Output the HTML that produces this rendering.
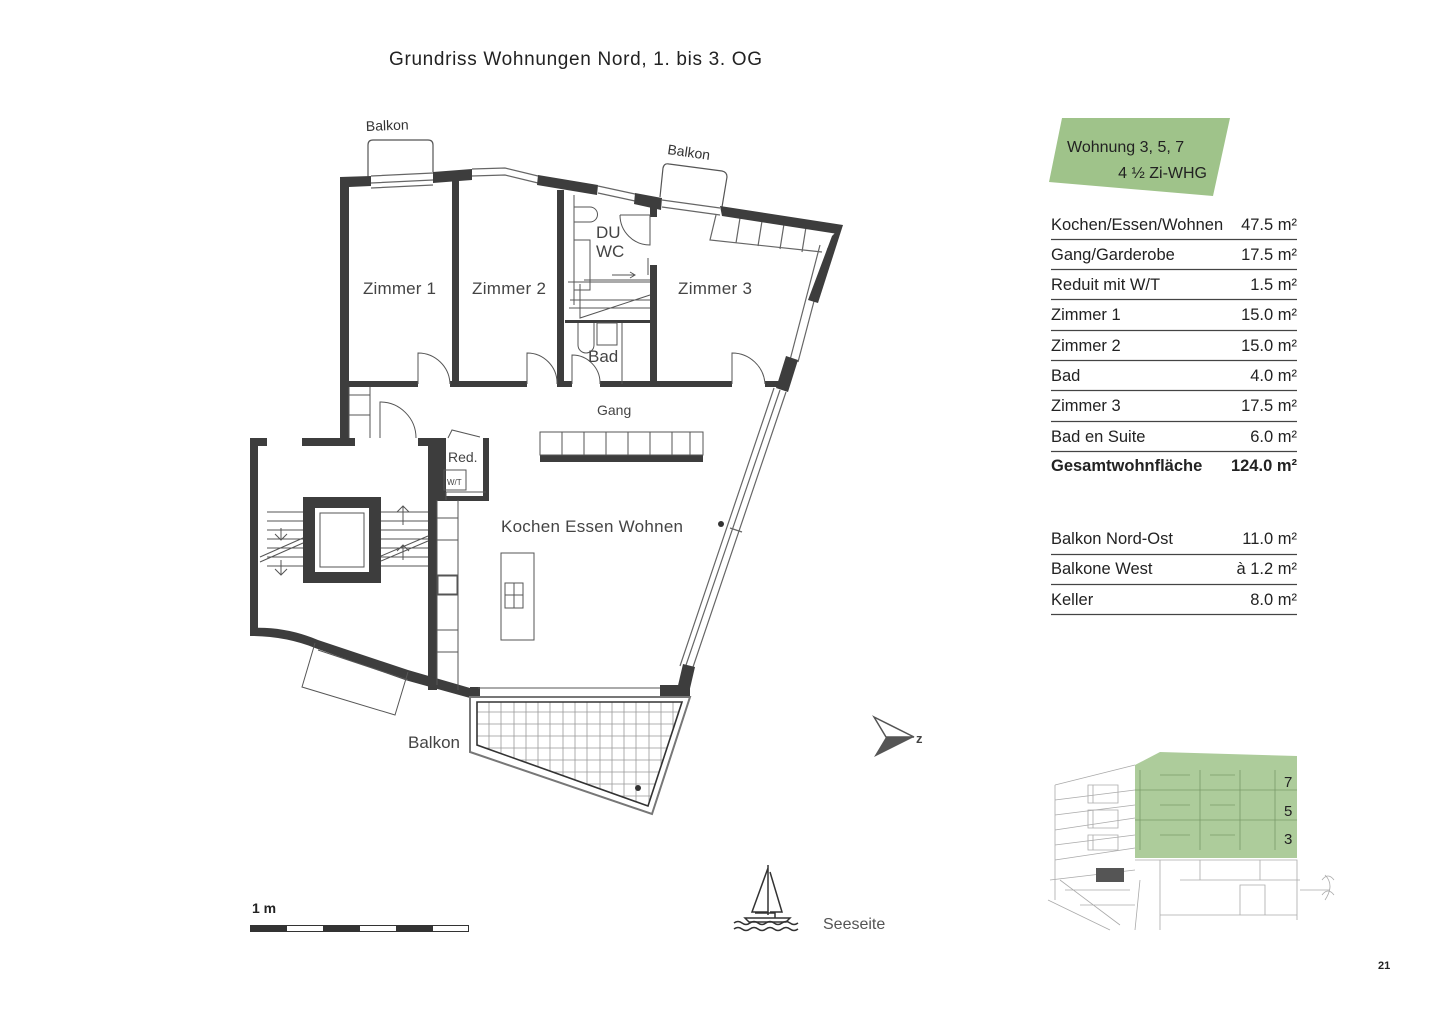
<!DOCTYPE html>
<html><head><meta charset="utf-8"><style>
html,body{margin:0;padding:0;background:#fff;}
svg{display:block;}
text{font-family:"Liberation Sans",sans-serif;}
</style></head><body>
<svg width="1440" height="1018" viewBox="0 0 1440 1018" xmlns="http://www.w3.org/2000/svg">
<rect width="1440" height="1018" fill="#fff"/>
<text x="389" y="65" font-size="19" fill="#222" textLength="373" lengthAdjust="spacing">Grundriss Wohnungen Nord, 1. bis 3. OG</text>

<!-- balcony top-left -->
<path d="M368 178 L368 145 Q368 140 373 140 L428 140 Q433 140 433 145 L433 172" fill="none" stroke="#555" stroke-width="1.2"/>
<text x="366" y="131" font-size="14" fill="#333" transform="rotate(-2 366 131)">Balkon</text>
<path d="M660 197 L663 168 Q664 163 669 164 L722 171 Q727 172 727 177 L722 207" fill="none" stroke="#555" stroke-width="1.2"/>
<text x="667" y="154" font-size="14" fill="#333" transform="rotate(8 667 154)">Balkon</text>

<!-- window segments top -->
<g fill="none" stroke="#666" stroke-width="1.2">
<path d="M371 176 L433 173 M371 183 L433 180 M371 188 L433 185"/>
<path d="M472 169 L505 168 L538 176 M472 176 L505 175 L538 183"/>
<path d="M598 186 L635 194 M598 193 L635 201"/>
<path d="M662 200 L720 208 M662 207 L720 215"/>
<path d="M716 215 L710 240 L822 252 M740 218 L736 243 M762 221 L758 246 M784 224 L780 249 M806 227 L802 252"/>
<path d="M820 245 L790 360 M828 248 L798 362"/>
<path d="M780 390 L685 668 M786 392 L692 670 M774 388 L680 666"/>
<path d="M730 528 L742 532"/>
</g>

<!-- main outer walls -->
<g fill="#3d3d3d">
<polygon points="340,177 371,176 371,186 349,187 349,438 340,438"/>
<polygon points="433,172 472,169 472,180 433,183"/>
<polygon points="538,175 598,185 597,195 537,185"/>
<polygon points="635,193 662,198 661,210 634,204"/>
<polygon points="720,206 843,225 838,234 722,216"/>
<polygon points="843,225 832,236 808,300 818,303"/>
<polygon points="786,356 798,360 788,392 776,388"/>
<polygon points="683,664 695,667 688,697 676,694"/>
<rect x="452" y="180" width="7" height="205"/>
<rect x="557" y="190" width="7" height="195"/>
<rect x="650" y="205" width="7" height="12"/>
<rect x="650" y="265" width="7" height="122"/>
<rect x="349" y="381" width="69" height="6"/>
<rect x="450" y="381" width="77" height="6"/>
<rect x="557" y="381" width="15" height="6"/>
<rect x="600" y="381" width="132" height="6"/>
<rect x="765" y="381" width="15" height="6"/>
<rect x="565" y="320" width="85" height="3"/>
<rect x="340" y="387" width="9" height="51"/>
<rect x="250" y="438" width="17" height="8"/>
<rect x="302" y="438" width="53" height="8"/>
<rect x="418" y="438" width="19" height="8"/>
<rect x="250" y="438" width="8" height="195"/>
<rect x="428" y="438" width="9" height="252"/>
<path d="M250 628 Q285 626 318 640 L408 670 L470 688 L470 698 L405 680 L315 648 Q285 636 250 636 Z"/>
<rect x="470" y="687" width="10" height="11"/>
<rect x="660" y="685" width="30" height="12"/>
<rect x="437" y="438" width="9" height="62"/>
<rect x="483" y="438" width="6" height="62"/>
<rect x="437" y="496" width="52" height="5"/>
<rect x="540" y="455" width="163" height="7"/>
<rect x="303" y="497" width="78" height="86"/>
</g>
<rect x="315" y="508" width="54" height="64" fill="#fff"/>
<rect x="320" y="513" width="44" height="54" fill="none" stroke="#555" stroke-width="1"/>

<g fill="none" stroke="#555" stroke-width="1">
<path d="M418 384 L418 353 A32 32 0 0 1 450 384"/>
<path d="M527 384 L527 353 A30 30 0 0 1 557 384"/>
<path d="M572 384 L572 355 A28 28 0 0 1 600 384"/>
<path d="M732 384 L732 353 A33 33 0 0 1 765 384"/>
<path d="M620 215 L650 215 L650 245 A30 30 0 0 1 620 215"/>
<path d="M380 438 L380 402 A36 36 0 0 1 416 438"/>
<path d="M448 438 L452 430 L480 437"/>
<path d="M267 512 L303 512 M267 521 L303 521 M267 530 L303 530 M267 539 L303 539 M267 548 L303 548 M267 557 L303 557 M267 566 L303 566"/>
<path d="M381 512 L428 512 M381 521 L428 521 M381 530 L428 530 M381 539 L428 539 M381 548 L428 548 M381 557 L428 557 M381 566 L428 566"/>
<path d="M260 557 L303 538 M260 562 L303 543 M381 556 L428 536 M381 561 L428 541"/>
<path d="M281 528 L281 540 M275 534 L281 540 L287 534 M281 560 L281 575 M275 569 L281 575 L287 569 M403 506 L403 525 M397 512 L403 506 L409 512 M403 545 L403 560 M397 551 L403 545 L409 551"/>
<path d="M349 387 L349 438 M349 395 L370 395 M370 387 L370 438 M349 415 L370 415"/>
<rect x="540" y="432" width="163" height="23"/>
<path d="M562 432 V455 M584 432 V455 M606 432 V455 M628 432 V455 M650 432 V455 M672 432 V455 M690 432 V455"/>
<path d="M437 500 L437 685 M458 500 L458 690 M437 518 H458 M437 540 H458 M437 575 H458 M437 595 H458 M437 630 H458 M437 652 H458"/>
<rect x="438" y="576" width="19" height="18"/>
<rect x="444" y="470" width="22" height="20"/>
<path d="M446 492 V500 M446 492 H486"/>
<rect x="501" y="553" width="33" height="87"/>
<rect x="505" y="583" width="18" height="25"/>
<path d="M514 583 V608 M505 595 H523"/>
<path d="M574 195 L574 305 M574 207 H590 A7 7 0 0 1 590 222 H574 M574 240 H590 V290 H574 M584 280 L650 280 M568 282 H650 M570 300 L650 300 M580 284 L580 318 L650 295 M569 308 L650 308 M578 323 L578 345 A8 8 0 0 0 594 345 V323 M597 323 H617 V345 H597 Z M622 323 V384"/>
<path d="M612 275 H635 M630 272 L635 275 L630 278"/>
<path d="M648 258 V275"/>
<path d="M315 643 L302 687 L395 715 L408 672"/>
<path d="M318 650 L408 680"/>
<path d="M480 697 L660 697 M478 688 L660 688"/>
</g>
<clipPath id="bc"><polygon points="477,702 682,702 648,806 477,745"/></clipPath>
<g clip-path="url(#bc)" stroke="#999" stroke-width="0.8">
<path d="M489 700V810 M501 700V810 M514 700V810 M526 700V810 M538 700V810 M550 700V810 M563 700V810 M575 700V810 M587 700V810 M600 700V810 M612 700V810 M624 700V810 M636 700V810 M649 700V810 M661 700V810 M673 700V810"/>
<path d="M470 712H690 M470 724H690 M470 736H690 M470 748H690 M470 760H690 M470 772H690 M470 784H690 M470 796H690"/>
</g>
<polygon points="477,702 682,702 648,806 477,745" fill="none" stroke="#333" stroke-width="1.6"/>
<polygon points="470,697 690,697 652,814 470,752" fill="none" stroke="#777" stroke-width="2"/>
<circle cx="638" cy="788" r="3" fill="#333"/>
<circle cx="721" cy="524" r="3" fill="#333"/>

<g font-size="17" fill="#444">
<text x="363" y="294" textLength="73">Zimmer 1</text>
<text x="472" y="294" textLength="74">Zimmer 2</text>
<text x="678" y="294" textLength="74">Zimmer 3</text>
<text x="596" y="238">DU</text>
<text x="596" y="257">WC</text>
<text x="588" y="362">Bad</text>
<text x="501" y="532" textLength="182">Kochen Essen Wohnen</text>
<text x="408" y="748">Balkon</text>
</g>
<text x="597" y="415" font-size="14" fill="#444">Gang</text>
<text x="448" y="462" font-size="14" fill="#444">Red.</text>
<text x="447" y="485" font-size="8" fill="#444">W/T</text>

<polygon points="874,717 914,737 874,757 886,737" fill="#555"/>
<polygon points="874,717 914,737 886,737" fill="#fff" stroke="#555" stroke-width="1.5"/>
<text x="916" y="743" font-size="13" font-weight="bold" fill="#444">z</text>

<g fill="none" stroke="#333" stroke-width="1.5">
<path d="M768 865 L768 915 M768 868 L752 912 L768 912 M770 872 L782 912 L770 912"/>
<path d="M745 918 H790 L786 922 H749 Z M755 913 H775 V918"/>
<path d="M734 923 q4 -3 8 0 t8 0 t8 0 t8 0 t8 0 t8 0 t8 0 t8 0 M734 929 q4 -3 8 0 t8 0 t8 0 t8 0 t8 0 t8 0 t8 0 t8 0"/>
</g>
<text x="823" y="929" font-size="16" fill="#555">Seeseite</text>

<text x="252" y="913" font-size="14" font-weight="bold" fill="#222">1 m</text>
<rect x="250.5" y="925.5" width="218" height="6" fill="#fff" stroke="#333"/>
<rect x="250" y="925" width="37" height="7" fill="#333"/>
<rect x="323" y="925" width="37" height="7" fill="#333"/>
<rect x="396" y="925" width="37" height="7" fill="#333"/>

<polygon points="1062,118 1230,118 1213,196 1049,182" fill="#9fc38a"/>
<text x="1067" y="152" font-size="16" fill="#222">Wohnung 3, 5, 7</text>
<text x="1207" y="178" font-size="16" fill="#222" text-anchor="end">4 ½ Zi-WHG</text>

<g font-size="16.5" fill="#222">
<text x="1051" y="230">Kochen/Essen/Wohnen</text><text x="1297" y="230" text-anchor="end">47.5 m²</text>
<text x="1051" y="260">Gang/Garderobe</text><text x="1297" y="260" text-anchor="end">17.5 m²</text>
<text x="1051" y="290">Reduit mit W/T</text><text x="1297" y="290" text-anchor="end">1.5 m²</text>
<text x="1051" y="320">Zimmer 1</text><text x="1297" y="320" text-anchor="end">15.0 m²</text>
<text x="1051" y="351">Zimmer 2</text><text x="1297" y="351" text-anchor="end">15.0 m²</text>
<text x="1051" y="381">Bad</text><text x="1297" y="381" text-anchor="end">4.0 m²</text>
<text x="1051" y="411">Zimmer 3</text><text x="1297" y="411" text-anchor="end">17.5 m²</text>
<text x="1051" y="442">Bad en Suite</text><text x="1297" y="442" text-anchor="end">6.0 m²</text>
<text x="1051" y="471" font-weight="bold">Gesamtwohnfläche</text><text x="1297" y="471" text-anchor="end" font-weight="bold">124.0 m²</text>
<text x="1051" y="544">Balkon Nord-Ost</text><text x="1297" y="544" text-anchor="end">11.0 m²</text>
<text x="1051" y="574">Balkone West</text><text x="1297" y="574" text-anchor="end">à 1.2 m²</text>
<text x="1051" y="605">Keller</text><text x="1297" y="605" text-anchor="end">8.0 m²</text>
</g>
<g stroke="#444" stroke-width="1.2">
<path d="M1051 239.5H1297 M1051 269.5H1297 M1051 299.5H1297 M1051 330.5H1297 M1051 360.5H1297 M1051 390.5H1297 M1051 421.5H1297 M1051 451.5H1297 M1051 554.5H1297 M1051 584.5H1297 M1051 614.5H1297"/>
</g>

<!-- building sketch -->
<g fill="none" stroke="#aaa" stroke-width="0.8">
<path d="M1055 785 L1135 765 M1055 800 L1135 790 M1055 815 L1135 805 M1055 830 L1135 818 M1055 845 L1135 835 M1055 860 L1135 848 M1055 785 L1055 900 M1050 880 L1135 870 M1048 900 L1110 930 M1060 880 L1120 925 M1065 890 L1130 890 M1080 905 L1135 905"/>
<path d="M1088 785 h30 v18 h-30z M1088 810 h30 v18 h-30z M1088 835 h30 v15 h-30z M1093 785 v18 M1093 810 v18 M1093 835 v15"/>
<path d="M1135 860 L1297 860 L1297 920 M1160 860 V930 M1180 880 L1300 880 M1240 885 h25 v30 h-25z M1140 880 L1135 930 M1300 890 L1330 890 M1200 860 V880 M1260 860 V880 M1160 915 L1297 915"/>
<path d="M1325 875 q10 10 0 25 M1322 880 q6 -8 12 0 M1322 895 q6 -8 12 0"/>
</g>
<rect x="1096" y="868" width="28" height="14" fill="#555"/>
<polygon points="1135,765 1160,752 1297,756 1297,858 1135,858" fill="#9fc38a" opacity="0.85"/>
<g stroke="#7a9a6a" stroke-width="0.8" fill="none">
<path d="M1135 790 H1297 M1135 820 H1297 M1140 770 V850 M1200 770 V850 M1240 770 V850 M1275 770 V850 M1160 775 H1190 M1210 775 H1235 M1160 805 H1190 M1210 805 H1235 M1160 835 H1190 M1210 835 H1235"/>
</g>
<g font-size="15" fill="#222">
<text x="1284" y="787">7</text><text x="1284" y="816">5</text><text x="1284" y="844">3</text>
</g>

<text x="1378" y="969" font-size="11" font-weight="bold" fill="#222">21</text>
</svg>
</body></html>
